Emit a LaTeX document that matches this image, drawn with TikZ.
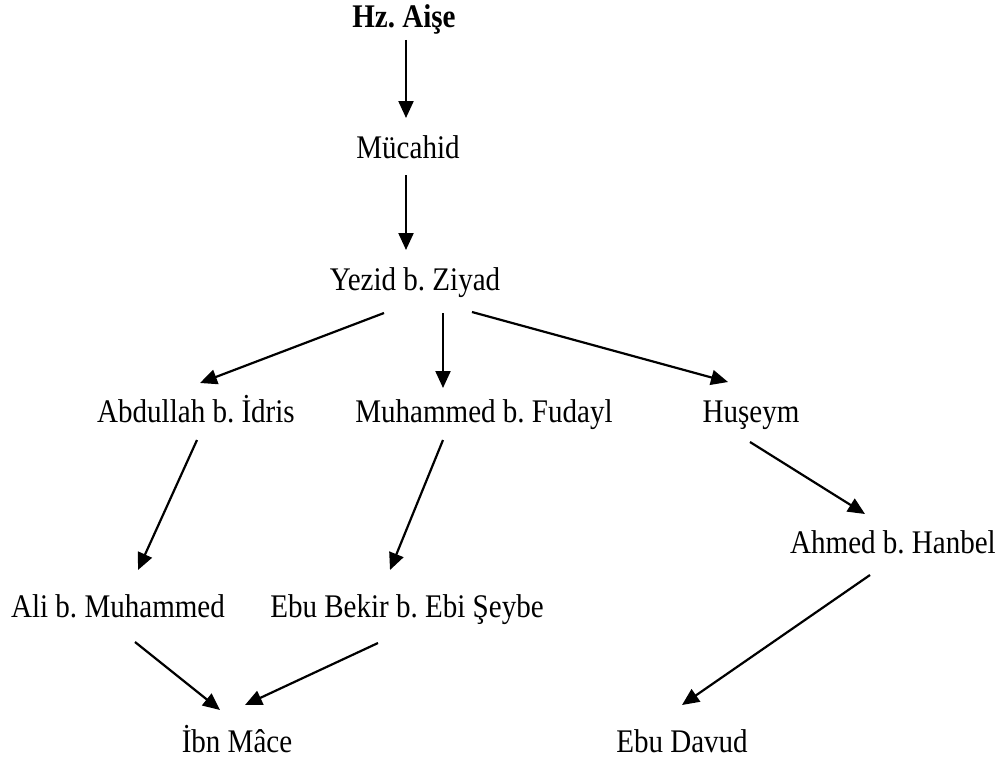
\documentclass[tikz,border=0pt]{standalone}
\usepackage{fontspec}
\setmainfont{Liberation Serif}[FakeStretch=0.88]
\usetikzlibrary{arrows.meta}
\frenchspacing
\begin{document}
\begin{tikzpicture}[x=1pt,y=-1pt,
  lbl/.style={anchor=base,inner sep=0pt,font=\fontsize{33}{38}\selectfont},
  arr/.style={line width=2.2pt,-{Triangle[length=17pt,width=15pt]}}]
\useasboundingbox (0,0) rectangle (1003,760);
\node[lbl,font=\fontsize{33}{38}\selectfont\bfseries] (aise) at (404,28) {Hz. Aişe};
\node[lbl] (mucahid) at (408,158) {Mücahid};
\node[lbl] (yezid) at (415,290) {Yezid b. Ziyad};
\node[lbl] (abd) at (196,422) {Abdullah b. İdris};
\node[lbl] (muh) at (484,422) {Muhammed b. Fudayl};
\node[lbl] (hus) at (751,422) {Huşeym};
\node[lbl] (ahmed) at (893,553) {Ahmed b. Hanbel};
\node[lbl] (ali) at (118,617) {Ali b. Muhammed};
\node[lbl] (ebubekir) at (407,617) {Ebu Bekir b. Ebi Şeybe};
\node[lbl] (ibn) at (237,752) {İbn Mâce};
\node[lbl] (davud) at (682,752) {Ebu Davud};
\draw[arr] ([shift={(2,12)}]aise.base) -- ([shift={(-2,-40)}]mucahid.base);
\draw[arr] ([shift={(-2,17)}]mucahid.base) -- ([shift={(-9,-40)}]yezid.base);
\draw[arr] ([shift={(-31,23)}]yezid.base) -- ([shift={(4,-39)}]abd.base);
\draw[arr] ([shift={(28,23)}]yezid.base) -- ([shift={(-41,-34)}]muh.base);
\draw[arr] ([shift={(57,22)}]yezid.base) -- ([shift={(-23,-40)}]hus.base);
\draw[arr] ([shift={(1,18)}]abd.base) -- ([shift={(20,-47)}]ali.base);
\draw[arr] ([shift={(-41,18)}]muh.base) -- ([shift={(-17,-47)}]ebubekir.base);
\draw[arr] ([shift={(-1,20)}]hus.base) -- ([shift={(-28,-39)}]ahmed.base);
\draw[arr] ([shift={(-23,22)}]ahmed.base) -- ([shift={(0,-47)}]davud.base);
\draw[arr] ([shift={(17,25)}]ali.base) -- ([shift={(-17,-42)}]ibn.base);
\draw[arr] ([shift={(-29,26)}]ebubekir.base) -- ([shift={(8,-47)}]ibn.base);
\end{tikzpicture}
\end{document}
